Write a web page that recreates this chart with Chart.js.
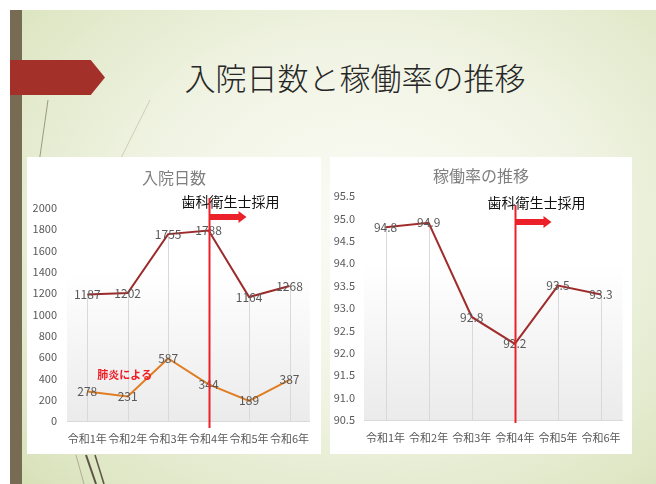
<!DOCTYPE html>
<html>
<head>
<meta charset="utf-8">
<script src="https://cdn.jsdelivr.net/npm/chart.js@4"></script>
<style>
  html, body { margin: 0; padding: 0; width: 656px; height: 484px; overflow: hidden; background: #fff; }
  #slide {
    position: absolute; left: 10px; top: 10px; width: 646px; height: 474px;
    background: radial-gradient(ellipse 75% 80% at 55% 45%, #fbfcf7 0%, #f1f4e4 45%, #dfe7c6 85%, #d6e0b6 100%);
    overflow: hidden;
  }
  #bar { position: absolute; left: 10px; top: 10px; width: 12px; height: 474px; background: #776c53; }
  #banner {
    position: absolute; left: 10px; top: 60px; width: 95px; height: 35px; background: #a3312a;
    clip-path: polygon(0 0, 85% 0, 100% 50%, 85% 100%, 0 100%);
  }
  #title {
    position: absolute; left: 120px; width: 470px; top: 56px; text-align: center;
    font-family: "Noto Sans CJK JP", sans-serif; font-weight: 300; font-size: 31px; color: #262626; line-height: 42px;
  }
  .panel { position: absolute; top: 157px; height: 297px; background: #fff; }
  #p1 { left: 27px; width: 294px; }
  #p2 { left: 330px; width: 302px; }
  svg { position: absolute; left: 0; top: 0; }
</style>
</head>
<body>
<div id="slide"></div>
<svg width="656" height="484">
  <line x1="48" y1="100" x2="38" y2="170" stroke="#8a8466" stroke-width="0.8"/>
  <line x1="150" y1="100" x2="120" y2="160" stroke="#b8b89a" stroke-width="0.6"/>
  <line x1="86" y1="455" x2="96" y2="484" stroke="#5c5444" stroke-width="2"/>
  <line x1="95" y1="455" x2="104" y2="484" stroke="#5c5444" stroke-width="1.5"/>
  <line x1="76" y1="455" x2="84" y2="484" stroke="#b0ab95" stroke-width="1"/>
</svg>
<div id="bar"></div>
<div id="banner"></div>
<div id="title">入院日数と稼働率の推移</div>
<div class="panel" id="p1"><canvas id="c1" width="294" height="297"></canvas></div>
<div class="panel" id="p2"><canvas id="c2" width="302" height="297"></canvas></div>
<script>
// data
const years = ['令和1年', '令和2年', '令和3年', '令和4年', '令和5年', '令和6年'];
const inpatientDays = [1187, 1202, 1755, 1788, 1164, 1268];
const pneumoniaDays = [278, 231, 587, 344, 189, 387];
const occupancyRate = [94.8, 94.9, 92.8, 92.2, 93.5, 93.3];
const markerIndex = 3; // 令和4年
const markerText = '歯科衛生士採用';

const FONT = "'Noto Sans CJK JP', 'Noto Sans', sans-serif";
Chart.defaults.font.family = FONT;
Chart.defaults.color = '#595959';

// draws title, plot background, drop lines, data labels and the 採用 marker
function slidePlugin(cfg) {
    return {
        id: 'slideMarks',
        beforeDatasetsDraw(chart) {
            const { ctx, chartArea: a } = chart;
            ctx.save();
            ctx.font = '16px ' + FONT;
            ctx.fillStyle = '#7f7f7f';
            ctx.textAlign = 'center';
            ctx.textBaseline = 'middle';
            ctx.fillText(cfg.title, chart.width / 2, cfg.titleY);

            const g = ctx.createLinearGradient(0, a.top, 0, a.bottom);
            g.addColorStop(0, '#ffffff');
            g.addColorStop(0.3, '#ffffff');
            g.addColorStop(1, '#ebebeb');
            ctx.fillStyle = g;
            ctx.fillRect(a.left, a.top, a.right - a.left, a.bottom - a.top);
            // drop lines from the top series
            ctx.strokeStyle = '#d9d9d9';
            ctx.lineWidth = 1;
            chart.getDatasetMeta(0).data.forEach(p => {
                const x = Math.round(p.x) + 0.5;
                ctx.beginPath();
                ctx.moveTo(x, p.y);
                ctx.lineTo(x, a.bottom);
                ctx.stroke();
            });
            ctx.restore();
        },
        afterDatasetsDraw(chart) {
            const { ctx } = chart;
            const xs = chart.scales.x, ys = chart.scales.y;
            ctx.save();
            // value labels
            ctx.font = '12px ' + FONT;
            ctx.fillStyle = '#595959';
            ctx.textAlign = 'center';
            ctx.textBaseline = 'middle';
            chart.data.datasets.forEach((ds, i) => {
                chart.getDatasetMeta(i).data.forEach((p, j) => {
                    const v = ds.data[j];
                    ctx.fillText(cfg.fmt ? cfg.fmt(v) : String(v), p.x, p.y);
                });
            });
            // marker line
            const mx = Math.round(xs.getPixelForValue(markerIndex)) + 0.5;
            ctx.strokeStyle = '#ec2028';
            ctx.lineWidth = 2;
            ctx.beginPath();
            ctx.moveTo(mx, cfg.lineTop);
            ctx.lineTo(mx, cfg.lineBottom);
            ctx.stroke();
            // arrow
            ctx.fillStyle = '#ec2028';
            const ay = cfg.arrowY;
            ctx.beginPath();
            ctx.moveTo(mx, ay - 3);
            ctx.lineTo(mx + cfg.arrowLen - 8, ay - 3);
            ctx.lineTo(mx + cfg.arrowLen - 8, ay - 6);
            ctx.lineTo(mx + cfg.arrowLen, ay);
            ctx.lineTo(mx + cfg.arrowLen - 8, ay + 6);
            ctx.lineTo(mx + cfg.arrowLen - 8, ay + 3);
            ctx.lineTo(mx, ay + 3);
            ctx.closePath();
            ctx.fill();
            // marker text
            ctx.font = '14px ' + FONT;
            ctx.fillStyle = '#111';
            ctx.fillText(markerText, mx + 21, cfg.textY);
            // extra note
            if (cfg.note) {
                ctx.font = 'bold 11px ' + FONT;
                ctx.fillStyle = '#ee1c25';
                ctx.fillText(cfg.note.text, xs.getPixelForValue(cfg.note.x), ys.getPixelForValue(cfg.note.y));
            }
            ctx.restore();
        }
    };
}

function baseOptions(padTop, yOpts, yWidth, xHeight, padRight) {
    return {
        responsive: false,
        animation: false,
        layout: { padding: { left: 0, right: padRight, top: padTop, bottom: 0 } },
        plugins: {
            legend: { display: false },
            tooltip: { enabled: false },
            title: { display: false }
        },
        scales: {
            x: {
                offset: true,
                grid: { display: false, drawTicks: false },
                border: { display: true, color: '#d9d9d9' },
                ticks: { font: { size: 11 }, padding: 11, maxRotation: 0, autoSkip: false },
                afterFit: s => { s.height = xHeight; }
            },
            y: Object.assign({
                grid: { display: false, drawTicks: false },
                border: { display: false },
                afterFit: s => { s.width = yWidth; }
            }, yOpts)
        }
    };
}

new Chart(document.getElementById('c1'), {
    type: 'line',
    data: {
        labels: years,
        datasets: [
            { label: '入院日数', data: inpatientDays, borderColor: '#9c2b2c', borderWidth: 2, pointRadius: 0, tension: 0 },
            { label: '肺炎による', data: pneumoniaDays, borderColor: '#e07d22', borderWidth: 2, pointRadius: 0, tension: 0 }
        ]
    },
    options: baseOptions(51, {
        min: 0, max: 2000,
        ticks: { stepSize: 200, font: { size: 11 }, padding: 10, callback: v => String(v) }
    }, 40, 33, 11),
    plugins: [slidePlugin({ title: '入院日数', titleY: 21, lineTop: 41, lineBottom: 271, arrowY: 60, arrowLen: 37, textY: 45,
        note: { text: '肺炎による', x: 0.93, y: 430 } })]
});

new Chart(document.getElementById('c2'), {
    type: 'line',
    data: {
        labels: years,
        datasets: [
            { label: '稼働率', data: occupancyRate, borderColor: '#a02d2b', borderWidth: 2, pointRadius: 0, tension: 0 }
        ]
    },
    options: baseOptions(39, {
        min: 90.5, max: 95.5,
        ticks: { stepSize: 0.5, font: { size: 11 }, padding: 9, callback: v => v.toFixed(1) }
    }, 34, 34, 5),
    plugins: [slidePlugin({ title: '稼働率の推移', titleY: 19, lineTop: 48, lineBottom: 266, arrowY: 65, arrowLen: 36, textY: 46,
        fmt: v => v.toFixed(1) })]
});
</script>
</body>
</html>
